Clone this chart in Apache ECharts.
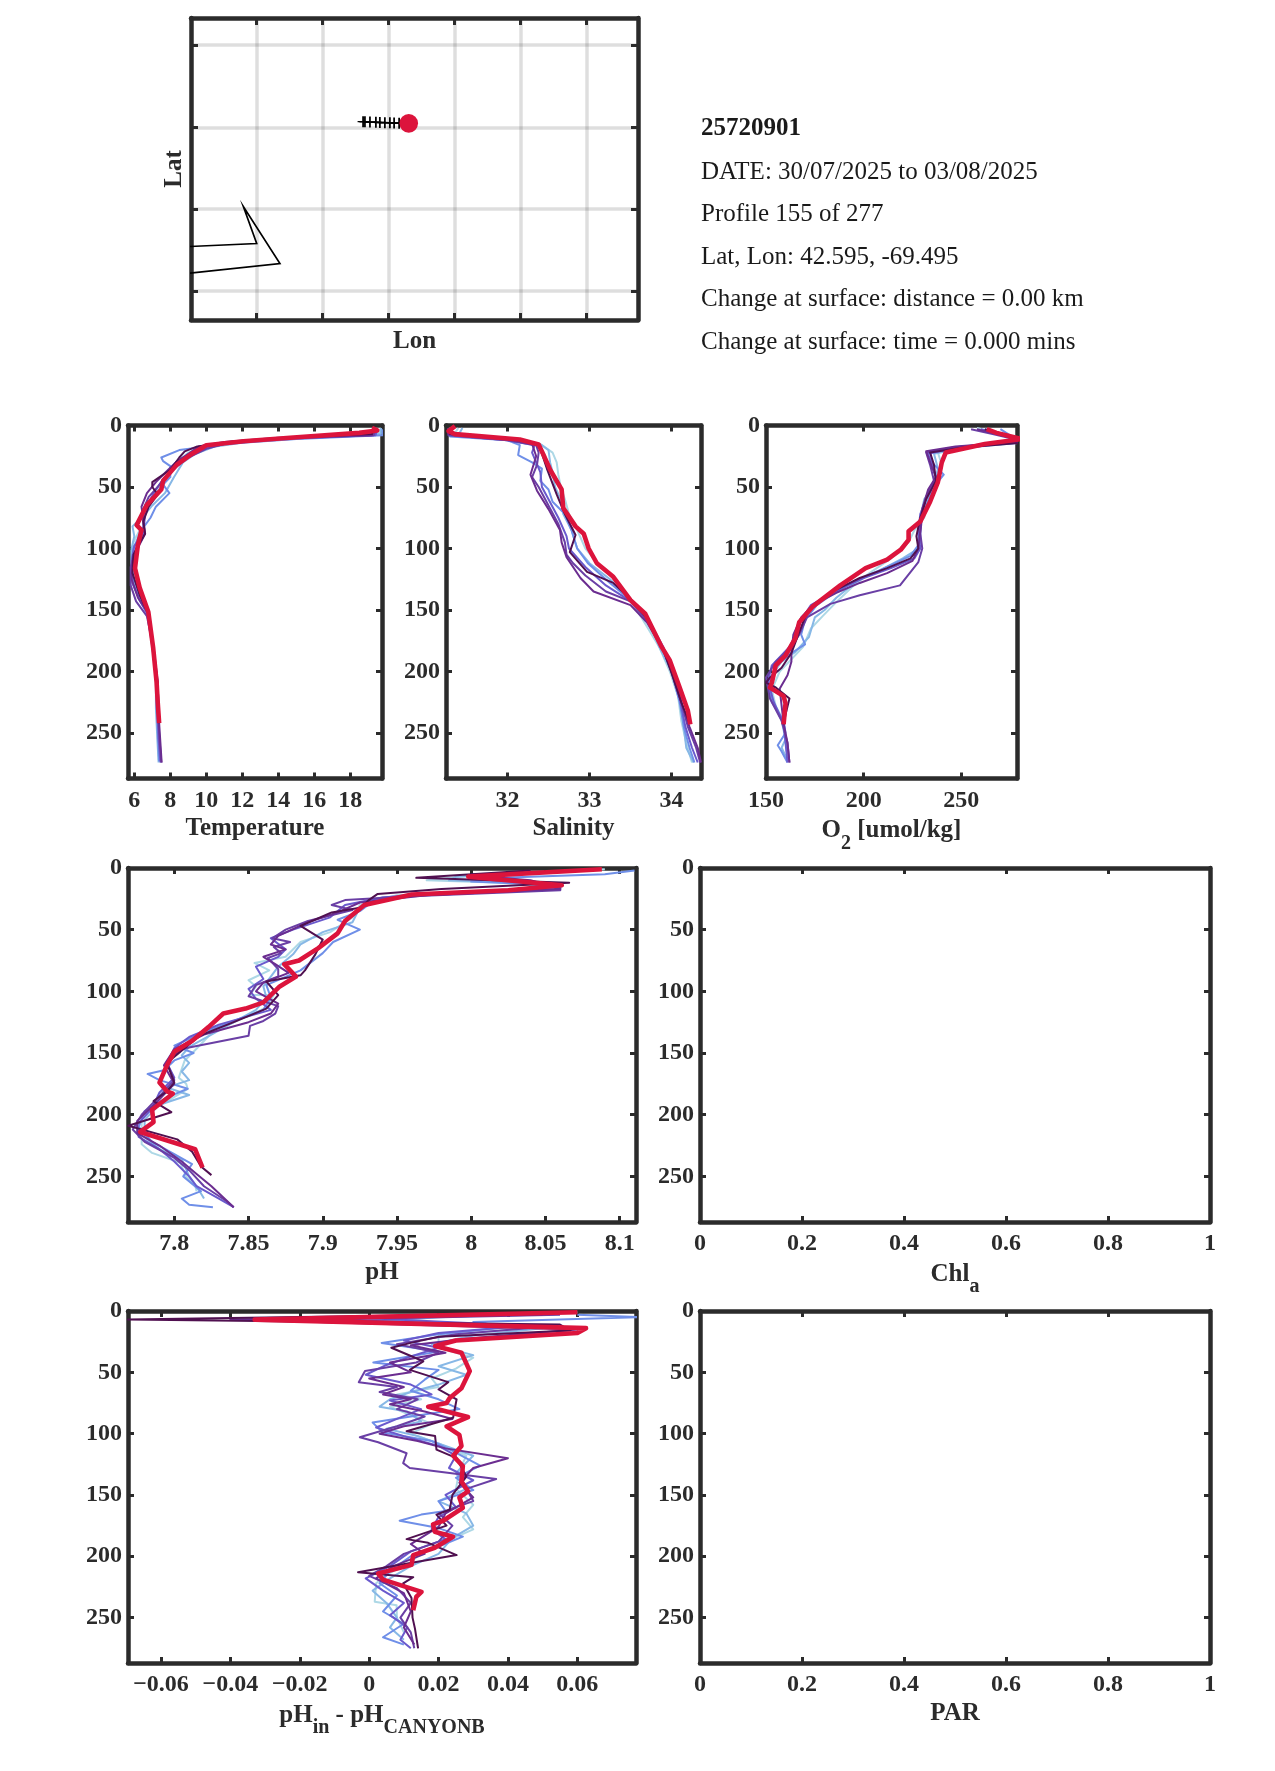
<!DOCTYPE html>
<html><head><meta charset="utf-8">
<script src="https://cdn.jsdelivr.net/npm/echarts@6/dist/echarts.min.js"></script>
<style>html,body{margin:0;padding:0;background:#fff}#c{width:1275px;height:1771px}</style>
</head><body><div id="c"></div>
<script>
const profileColors=['#add8e6','#87b8e6','#6f8fe8','#6a5acd','#6a3fa5','#6b2d90','#501050'];
const redColor='#dc143c';
const infoLines=['25720901','DATE: 30/07/2025 to 03/08/2025','Profile 155 of 277','Lat, Lon: 42.595, -69.495','Change at surface: distance = 0.00 km','Change at surface: time = 0.000 mins'];
const depthTicks=[0,50,100,150,200,250];
const tempTicks=[6,8,10,12,14,16,18];
const salTicks=[32,33,34];
const o2Ticks=[150,200,250];
const phTicks=[7.8,7.85,7.9,7.95,8,8.05,8.1];
const diffTicks=[-0.06,-0.04,-0.02,0,0.02,0.04,0.06];
const lonTicks=[-70.647,-70.15,-69.65,-69.147,-68.647,-68.147];
const latTicks=[43.072,42.569,42.073,41.571];

const trackLon=[-69.841,-69.827,-69.789,-69.744,-69.714,-69.676,-69.638,-69.606,-69.568,-69.495];
const trackLat=[42.605,42.604,42.603,42.602,42.600,42.599,42.598,42.597,42.596,42.595];
const coastLon=[-71.4,-70.647,-70.748,-70.471,-71.4];
const coastLat=[41.835,41.862,42.087,41.740,41.66];
const floatLon=[-69.495];
const floatLat=[42.595];

const temp1=[[19.7,2],[19.6,6],[15,10],[12,13],[10,16],[9,22],[8.4,30],[7.8,42],[7.2,55],[6.6,65],[6.4,72],[6.1,80],[6.3,85],[5.95,95],[5.9,105],[6.0,120],[6.3,135],[6.7,150],[7.0,175],[7.2,200],[7.25,225],[7.3,250],[7.36,272]];
const temp2=[[19.7,2],[19.7,7],[16,10],[12.5,13],[10.5,17],[9.4,23],[8.7,30],[8.2,42],[7.7,55],[7.0,65],[6.6,72],[5.9,82],[6.0,90],[5.85,100],[5.85,112],[6.0,128],[6.4,142],[6.8,155],[7.0,180],[7.2,205],[7.2,230],[7.28,255],[7.35,274]];
const temp3=[[19.8,3],[19.8,8],[15,11],[11,15],[9.5,18],[8.5,20],[7.5,26],[7.6,29],[8,33],[8,42],[7.6,48],[7.95,55],[7.2,66],[6.9,75],[6.4,85],[5.95,100],[5.85,115],[5.95,130],[6.3,142],[6.7,152],[7,180],[7.2,205],[7.25,232],[7.33,255],[7.38,273]];
const temp4=[[19.5,3],[19.4,8],[14,11],[11,15],[9.5,20],[8.6,27],[8.2,35],[7.6,44],[7.2,52],[6.9,60],[6.6,72],[6.5,88],[6,98],[5.85,110],[5.9,128],[6.3,142],[6.8,155],[7.05,180],[7.25,205],[7.3,232],[7.35,255],[7.45,274]];
const temp5=[[19.4,3],[19.3,8],[13.5,11],[11,15],[10,19],[9,26],[8.4,33],[7.7,42],[7.3,50],[6.8,58],[6.5,68],[6.5,85],[6.1,100],[5.8,115],[5.8,130],[6.1,143],[6.7,155],[7.05,180],[7.25,205],[7.3,230],[7.4,255],[7.5,274]];
const temp6=[[19.3,3],[19.2,8],[14,10],[11,13.5],[9.6,17],[8.9,24],[8.3,30],[7.6,40],[7.2,46],[6.7,55],[6.4,66],[6.6,88],[6.25,98],[5.9,110],[5.85,125],[6.2,140],[6.75,152],[7.05,178],[7.3,208],[7.35,235],[7.45,258],[7.52,274]];
const temp7=[[19.3,3],[19.2,7],[14.5,10],[11.5,13],[9.5,17],[8.8,21],[8.5,26],[8,36],[7.3,43],[7,46],[7,50],[7.3,56],[6.8,66],[6.5,78],[6.6,88],[6.2,98],[5.95,105],[5.9,120],[6.3,138],[6.75,152],[7.05,180],[7.3,210],[7.35,232],[7.4,242]];
const tempRed=[[19.2,2],[19.5,4],[18.5,6],[14.65,10],[12.06,12.8],[10,16],[9.1,24],[8.35,32],[7.6,45],[7.5,52],[6.7,64.5],[6.13,81],[6.4,85],[6.2,97],[6.04,116],[6.3,132],[6.78,151.6],[7.05,181],[7.24,209],[7.3,225],[7.38,242]];

const sal1=[[31.4,2],[31.35,7],[32.1,11],[32.42,16],[32.55,22],[32.6,30],[32.62,40],[32.65,50],[32.7,60],[32.75,72],[32.85,85],[32.95,100],[33.1,112],[33.3,125],[33.5,142],[33.65,158],[33.85,180],[33.98,200],[34.08,220],[34.12,240],[34.18,258],[34.25,274]];
const sal2=[[31.45,2],[31.4,8],[32.05,11],[32.4,15],[32.5,20],[32.52,30],[32.55,38],[32.58,50],[32.65,60],[32.68,72],[32.78,85],[32.85,100],[33,112],[33.25,125],[33.5,142],[33.7,155],[33.85,180],[34,200],[34.12,222],[34.15,245],[34.18,262],[34.27,274]];
const sal3=[[31.3,3],[31.3,9],[32,12],[32.15,16],[32.13,24],[32.3,30],[32.42,35],[32.4,45],[32.5,52],[32.55,62],[32.7,72],[32.78,85],[32.85,100],[32.98,112],[33.25,128],[33.5,142],[33.72,160],[33.88,180],[34,200],[34.1,225],[34.15,245],[34.22,262],[34.28,274]];
const sal4=[[31.3,3],[31.3,8],[32,12],[32.33,16],[32.3,22],[32.35,30],[32.4,38],[32.42,50],[32.5,60],[32.62,75],[32.72,90],[32.75,100],[32.95,115],[33.2,130],[33.48,142],[33.72,158],[33.9,180],[34,200],[34.1,222],[34.17,245],[34.25,262],[34.32,274]];
const sal5=[[31.28,2],[31.28,8],[32,12],[32.35,16],[32.38,22],[32.36,32],[32.3,42],[32.38,50],[32.5,65],[32.62,80],[32.7,95],[32.72,105],[32.8,112],[32.95,122],[33.2,135],[33.5,143],[33.7,158],[33.9,182],[34.02,202],[34.12,225],[34.2,245],[34.3,262],[34.35,274]];
const sal6=[[31.28,2],[31.28,7],[32,11],[32.3,15],[32.35,25],[32.28,40],[32.36,53],[32.5,68],[32.64,85],[32.66,95],[32.72,107],[32.89,124],[33.05,135],[33.5,146],[33.7,160],[33.9,183],[34,200],[34.12,225],[34.22,245],[34.32,262],[34.36,274]];
const sal7=[[31.3,2],[31.3,7],[32.1,11],[32.38,16],[32.43,25],[32.48,35],[32.6,56],[32.7,72],[32.83,89],[32.76,103],[32.97,119],[33.29,128],[33.5,141],[33.72,158],[33.9,182],[34.02,205],[34.12,225],[34.22,242]];
const salRed=[[31.36,0.5],[31.28,4.6],[31.36,7],[32.15,11.4],[32.38,15.5],[32.44,24],[32.52,36],[32.66,52],[32.68,67],[32.83,82],[32.93,88],[32.99,100],[33.09,112],[33.29,123],[33.5,142],[33.68,153],[33.88,180],[33.98,191],[34.1,213],[34.2,232],[34.23,243]];

const oxy1=[[258,2],[268,6],[276,10],[279,13],[255,17],[238,22],[240,32],[238,45],[233,60],[231,75],[226,85],[223,95],[214,108],[203,120],[195,130],[187,142],[179,155],[173,165],[169,180],[163,190],[157,200],[153,215],[155,228],[159,240],[160,255],[161,270]];
const oxy2=[[262,3],[272,7],[278,11],[280,14],[252,18],[236,23],[238,35],[236,48],[231,60],[229,75],[228,88],[228,100],[220,108],[208,118],[197,126],[186,140],[180,150],[175,156],[172,172],[165,184],[158,192],[152,205],[153,222],[158,240],[160,255],[158,262],[161,272]];
const oxy3=[[270,3],[275,8],[279,11],[280,13],[250,17],[234,21],[235,30],[241,40],[236,50],[232,65],[229,80],[229,95],[224,106],[212,115],[198,125],[186,135],[176,146],[170,158],[168,170],[170,178],[162,186],[155,196],[151,210],[153,225],[159,240],[160,250],[156,260],[158,265],[161,274]];
const oxy4=[[260,3],[270,7],[278,11],[279,14],[248,18],[233,23],[235,32],[237,42],[233,55],[229,72],[228,85],[229,100],[226,108],[214,116],[200,124],[185,135],[173,146],[168,158],[166,168],[162,180],[153,195],[151,208],[154,225],[159,242],[160,258],[161,274]];
const oxy5=[[255,3],[266,7],[277,11],[280,13],[245,18],[232,22],[234,32],[236,45],[232,58],[230,72],[229,88],[230,100],[228,111],[218.6,130],[198,138],[183,145],[171,156],[167,170],[163,180],[155,192],[150,205],[152,222],[158,240],[161,258],[162,274]];
const oxy6=[[258,3],[268,7],[278,11],[281,13],[247,17],[232,21],[234,30],[237,42],[233,52],[230,68],[229,85],[228,100],[225,110],[212,120],[198,128],[186,136],[174,146],[168,156],[164,170],[163,185],[163,192],[161,203],[157,214],[158,228],[159,242],[161,258],[162,274]];
const oxy7=[[262,3],[272,7],[279,11],[280,14],[250,18],[234,22],[236,32],[237,45],[232,60],[229,75],[227,90],[228,100],[224,108],[212,116],[198,124],[184,135],[174,146],[171,152],[167,168],[163,185],[158,197],[152,205],[150,209],[155,213],[162,222],[160,235],[159,243]];
const oxyRed=[[263,3],[268,6],[281,11],[262,15],[242,22],[240,30],[238,46],[234,62],[229,78],[223,86],[223,93],[219,101],[212,109],[201,116],[188,130],[174,147],[167,160],[165,173],[160,187],[155,195],[153,209],[152,213],[159,220],[160,226],[159,243]];

const ph1=[[8.09,1],[8.0,6],[7.97,10],[8.02,12],[8.06,14],[8.02,18],[7.95,22],[7.925,30],[7.92,40],[7.905,52],[7.885,60],[7.875,72],[7.854,77],[7.864,83],[7.85,91],[7.855,96],[7.851,103],[7.867,103],[7.862,113],[7.835,128],[7.825,134],[7.813,149],[7.807,156],[7.803,170],[7.808,175],[7.809,179],[7.794,190],[7.778,201],[7.778,224],[7.785,231],[7.804,239],[7.808,250],[7.814,257],[7.815,262]];
const ph2=[[8.08,2],[7.99,7],[7.985,10],[8.03,12],[8.06,15],[8.0,19],[7.94,24],[7.925,32],[7.92,44],[7.9,52],[7.885,62],[7.88,70],[7.87,80],[7.865,88],[7.86,96],[7.862,105],[7.855,115],[7.84,125],[7.825,135],[7.81,145],[7.805,152],[7.81,158],[7.805,165],[7.81,172],[7.795,178],[7.81,184],[7.79,192],[7.78,204],[7.78,218],[7.79,228],[7.805,236],[7.81,250],[7.815,258],[7.82,268]];
const ph3=[[8.11,2],[8.09,5],[8.02,8],[8.0,11],[8.04,13],[8.06,16],[7.98,20],[7.935,26],[7.925,35],[7.91,42],[7.925,50],[7.907,60],[7.90,69],[7.885,83],[7.862,95],[7.865,105],[7.86,115],[7.84,124],[7.82,133],[7.80,144],[7.813,150],[7.80,156],[7.793,164],[7.782,167],[7.79,172],[7.809,179],[7.795,186],[7.78,197],[7.776,210],[7.785,222],[7.80,232],[7.812,240],[7.806,250],[7.818,262],[7.805,268],[7.81,273],[7.826,275]];
const ph4=[[8.06,3],[8.0,7],[8.03,11],[8.06,16],[7.98,20],[7.94,24],[7.915,30],[7.905,40],[7.88,50],[7.865,57],[7.875,66],[7.87,72],[7.855,80],[7.86,90],[7.85,98],[7.855,106],[7.865,115],[7.83,127],[7.81,137],[7.80,146],[7.795,158],[7.80,170],[7.79,182],[7.785,195],[7.775,208],[7.776,218],[7.79,228],[7.80,238],[7.81,250],[7.815,258],[7.83,268],[7.84,275]];
const ph5=[[8.0,5],[8.06,15],[8.06,18],[7.96,23],[7.915,26],[7.906,30],[7.92,34],[7.89,43],[7.875,50],[7.866,57],[7.878,60],[7.867,64],[7.872,69],[7.863,73],[7.87,82],[7.87,88],[7.855,95],[7.85,104],[7.87,112],[7.868,118],[7.86,124],[7.851,128],[7.85,136],[7.804,147],[7.795,158],[7.80,172],[7.79,185],[7.778,200],[7.772,212],[7.78,222],[7.80,235],[7.81,245],[7.82,258],[7.835,270],[7.84,275]];
const ph6=[[8.0,6],[8.04,10],[8.06,17],[7.97,22],[7.925,28],[7.91,36],[7.89,44],[7.87,55],[7.865,62],[7.875,66],[7.86,72],[7.868,78],[7.877,85],[7.86,93],[7.855,100],[7.87,110],[7.865,118],[7.85,125],[7.82,135],[7.80,147],[7.793,160],[7.80,175],[7.788,190],[7.775,205],[7.775,215],[7.79,225],[7.805,238],[7.815,248],[7.825,258],[7.84,275]];
const ph7=[[8.04,2],[7.963,8],[8.066,12],[7.98,17],[7.937,21],[7.931,26],[7.926,32],[7.906,36],[7.885,47],[7.90,58],[7.895,70],[7.888,83],[7.885,87],[7.862,92],[7.87,103],[7.862,114],[7.84,125],[7.817,136],[7.795,158],[7.80,174],[7.795,181],[7.786,189],[7.798,198],[7.769,209],[7.802,220],[7.812,230],[7.818,242],[7.825,249]];
const phRed=[[8.088,1],[7.998,7],[8.061,14],[8.025,18],[7.96,21.5],[7.928,30],[7.915,43],[7.91,53],[7.897,65],[7.884,75],[7.874,78],[7.882,88],[7.871,96],[7.86,109],[7.848,114],[7.833,118],[7.823,129],[7.812,140],[7.80,149],[7.795,160],[7.79,174],[7.795,181],[7.799,183],[7.785,196],[7.786,206],[7.777,214],[7.814,228],[7.819,243]];

const diff1=[[0.05,2],[-0.03,8],[0.05,13],[0.02,20],[0.02,30],[0.03,38],[0.025,47],[0.018,55],[0.02,62],[0.008,68],[0.015,72],[0.006,78],[0.012,85],[0.018,92],[0.012,100],[0.02,108],[0.028,118],[0.026,130],[0.025,145],[0.03,158],[0.027,168],[0.03,178],[0.022,188],[0.015,197],[0.012,205],[0.005,215],[0.002,222],[0.0016,237],[0.0079,240],[0.008,250],[0.01,262]];
const diff2=[[0.06,1],[0.02,5],[0.0,9],[0.05,14],[0.03,20],[0.018,27],[0.03,36],[0.02,45],[0.028,52],[0.02,60],[0.012,66],[0.006,72],[0.003,78],[0.011,82],[0.015,90],[0.005,96],[0.014,102],[0.022,110],[0.03,118],[0.025,132],[0.028,145],[0.02,155],[0.028,165],[0.03,175],[0.024,185],[0.02,198],[0.012,208],[0.006,218],[0.001,228],[0.005,238],[0.008,250],[0.006,258],[0.01,268]];
const diff3=[[0.06,3],[0.078,5],[0.03,9],[0.04,13],[0.02,19],[0.0036,26],[0.02,33],[0.0012,42],[0.02,48],[0.016,56],[0.012,65],[0.02,72],[0.026,80],[0.012,86],[0.001,91],[0.004,99],[0.018,106],[0.024,114],[0.032,126],[0.025,136],[0.03,146],[0.02,155],[0.022,163],[0.015,166],[0.0088,171],[0.02,177],[0.027,184],[0.02,192],[0.012,200],[0.006,212],[0.003,222],[0.008,232],[0.004,245],[0.01,255],[0.004,266],[0.01,272]];
const diff4=[[0.05,2],[0.0,6],[0.045,12],[0.02,18],[0.01,24],[0.02,30],[0.012,37],[0.005,44],[-0.001,52],[0.012,60],[0.018,68],[0.006,73],[0.015,80],[0.008,88],[0.002,95],[0.01,102],[0.02,110],[0.025,118],[0.023,128],[0.03,138],[0.022,150],[0.025,160],[0.02,168],[0.018,178],[0.022,186],[0.012,196],[0.006,208],[-0.001,218],[0.004,228],[0.01,238],[0.006,248],[0.011,258],[0.009,268],[0.012,275]];
const diff5=[[0.055,3],[-0.01,7],[0.05,13],[0.025,19],[0.008,27],[0.02,34],[0.0136,42],[-0.0012,49],[-0.003,58],[0.008,62],[0.003,66],[0.014,72],[0.008,80],[0.016,86],[0.008,94],[-0.0027,103],[0.0026,107],[0.0108,116],[0.0098,124],[0.0117,128],[0.0232,132],[0.0366,137],[0.028,145],[0.03,155],[0.02,165],[0.024,175],[0.02,188],[0.01,198],[0.005,208],[0.0,216],[0.008,226],[0.012,238],[0.009,250],[0.012,262],[0.013,275]];
const diff6=[[0.05,3],[-0.04,7],[0.06,15],[0.03,22],[0.012,28],[0.022,34],[0.006,42],[0.012,50],[0.0,55],[0.01,62],[0.004,68],[0.012,72],[0.006,76],[0.016,82],[0.024,88],[0.01,94],[0.003,100],[0.014,106],[0.022,112],[0.04,120],[0.03,128],[0.026,140],[0.03,152],[0.022,165],[0.02,176],[0.012,190],[0.016,198],[0.007,208],[0.002,218],[0.01,230],[0.012,245],[0.01,258],[0.013,272]];
const diff7=[[0.05,2],[-0.0695,7],[0.055,11],[0.058,16],[0.02,21],[0.012,26],[0.0064,30],[0.0156,41],[0.0117,48],[0.0228,58],[0.02,64],[0.0252,72],[0.0242,87],[0.0108,98],[0.019,102],[0.0194,113],[0.0252,120],[0.028,135],[0.024,150],[0.0232,162],[0.0194,166],[0.0223,175],[0.0108,186],[0.017,189],[0.0252,199],[0.0127,205],[-0.0032,213],[0.0127,217],[0.0098,222],[0.0122,234],[0.0125,250],[0.0132,259],[0.0141,275]];
const diffRed=[[0.06,1],[-0.033,7],[0.0625,14],[0.06,18],[0.025,24],[0.019,28.6],[0.0266,34],[0.029,49],[0.0266,63],[0.0232,71],[0.0223,75],[0.017,78],[0.0285,86.5],[0.0223,94],[0.026,101],[0.0266,110],[0.0242,118],[0.027,126.5],[0.0266,139],[0.0285,147],[0.026,152],[0.027,160.5],[0.0213,171],[0.0184,174],[0.0189,180],[0.0242,184],[0.0189,193],[0.0127,199],[0.0122,207],[0.0026,214],[0.004,219],[0.0151,229],[0.0136,233],[0.0127,244]];

const serif='"Liberation Serif","Times New Roman",serif';
const ink='#2b2b2b';
const tickFont=24, nameFont=25;
function zipPairs(a,b){return a.map((v,i)=>[v,b[i]]);}
const fmt=v=>String(v).replace('-','\u2212');

const grids=[],xAxes=[],yAxes=[],series=[];
function addPanel(p){
  const g=grids.length;
  grids.push({left:p.left,top:p.top,width:p.width,height:p.height,containLabel:false});
  const axisLine={show:true,onZero:false,lineStyle:{color:ink,width:4.5}};
  const tick=(ticks)=>({show:true,inside:true,length:p.tickLen||6,lineStyle:{color:ink,width:3},customValues:ticks});
  const xLabel={show:p.xLabels!==false,color:ink,fontFamily:serif,fontWeight:'bold',fontSize:tickFont,margin:10,customValues:p.xTicks,hideOverlap:false,formatter:fmt};
  const yLabel={show:p.yLabels!==false,color:ink,fontFamily:serif,fontWeight:'bold',fontSize:tickFont,margin:6,padding:[6,0,0,0],customValues:p.yTicks,hideOverlap:false,formatter:fmt};
  const split=p.grid?{show:true,lineStyle:{color:'rgba(0,0,0,0.13)',width:3.5}}:{show:false};
  xAxes.push({type:'value',gridIndex:g,position:'bottom',min:p.xMin,max:p.xMax,axisLine,axisTick:tick(p.xTicks),axisLabel:xLabel,splitLine:split,
    name:p.xName,nameLocation:'middle',nameGap:p.xGap||38,nameTextStyle:Object.assign({color:ink,fontFamily:serif,fontWeight:'bold',fontSize:nameFont},p.xNameStyle||{})});
  xAxes.push({type:'value',gridIndex:g,position:'top',min:p.xMin,max:p.xMax,axisLine,axisTick:tick(p.xTicks),axisLabel:{show:false},splitLine:{show:false}});
  yAxes.push({type:'value',gridIndex:g,position:'left',inverse:!!p.yInv,min:p.yMin,max:p.yMax,axisLine,axisTick:tick(p.yTicks),axisLabel:yLabel,splitLine:split,
    name:p.yName,nameLocation:'middle',nameGap:p.yGap||20,nameRotate:90,nameTextStyle:{color:ink,fontFamily:serif,fontWeight:'bold',fontSize:nameFont}});
  yAxes.push({type:'value',gridIndex:g,position:'right',inverse:!!p.yInv,min:p.yMin,max:p.yMax,axisLine,axisTick:tick(p.yTicks),axisLabel:{show:false},splitLine:{show:false}});
  return {xAxisIndex:g*2,yAxisIndex:g*2};
}
function addProfiles(ax,thin,red){
  thin.forEach((d,i)=>series.push(Object.assign({type:'line',data:d,symbol:'none',clip:true,silent:true,lineStyle:{color:profileColors[i],width:2,join:'round'}},ax)));
  series.push(Object.assign({type:'line',data:red,symbol:'none',clip:true,silent:true,lineStyle:{color:redColor,width:4.6,join:'round'},z:5},ax));
}
const depthMax=287;
const subStyle={sub:{fontFamily:serif,fontWeight:'bold',fontSize:20,color:ink,padding:[25,0,0,0]},base:{fontFamily:serif,fontWeight:'bold',fontSize:nameFont,color:ink}};

// map
const mapAx=addPanel({left:191,top:18,width:447,height:302,xMin:-71.1447,xMax:-67.7583,yMin:41.3955,yMax:43.2376,xTicks:lonTicks,yTicks:latTicks,xLabels:false,yLabels:false,grid:true,tickLen:7,xName:'Lon',yName:'Lat',xGap:9,yGap:4,xNameStyle:{verticalAlign:'top'}});
series.push(Object.assign({type:'line',data:zipPairs(coastLon,coastLat),symbol:'none',clip:true,silent:true,lineStyle:{color:'#000',width:1.7,join:'miter'}},mapAx));
series.push(Object.assign({type:'line',data:zipPairs(trackLon,trackLat),symbol:'path://M4.2 0H5.8V4.4H10V5.6H5.8V10H4.2V5.6H0V4.4H4.2Z',symbolSize:11,showAllSymbol:true,silent:true,itemStyle:{color:'#000',opacity:1},lineStyle:{color:'#000',width:1.8}},mapAx));
series.push(Object.assign({type:'scatter',data:zipPairs(floatLon,floatLat),symbol:'circle',symbolSize:18.6,silent:true,z:6,itemStyle:{color:redColor,opacity:1}},mapAx));

// row 1
addProfiles(addPanel({left:128,top:425.5,width:254,height:353,xMin:5.65,xMax:19.76,yMin:0,yMax:depthMax,yInv:true,xTicks:tempTicks,yTicks:depthTicks,xName:'Temperature',xGap:38}),[temp1,temp2,temp3,temp4,temp5,temp6,temp7],tempRed);
addProfiles(addPanel({left:446,top:425.5,width:255,height:353,xMin:31.25,xMax:34.36,yMin:0,yMax:depthMax,yInv:true,xTicks:salTicks,yTicks:depthTicks,xName:'Salinity',xGap:38}),[sal1,sal2,sal3,sal4,sal5,sal6,sal7],salRed);
addProfiles(addPanel({left:766,top:425.5,width:251,height:353,xMin:150,xMax:278.5,yMin:0,yMax:depthMax,yInv:true,xTicks:o2Ticks,yTicks:depthTicks,xName:'{base|O}{sub|2}{base| [umol/kg]}',xGap:30,xNameStyle:{rich:subStyle}}),[oxy1,oxy2,oxy3,oxy4,oxy5,oxy6,oxy7],oxyRed);
// row 2
addProfiles(addPanel({left:128,top:868,width:508,height:354,xMin:7.7688,xMax:8.111,yMin:0,yMax:depthMax,yInv:true,xTicks:phTicks,yTicks:depthTicks,xName:'pH',xGap:38}),[ph1,ph2,ph3,ph4,ph5,ph6,ph7],phRed);
addPanel({left:700,top:868,width:510,height:354,xMin:0,xMax:1,yMin:0,yMax:depthMax,yInv:true,xTicks:[0,0.2,0.4,0.6,0.8,1],yTicks:depthTicks,xName:'{base|Chl}{sub|a}',xGap:30,xNameStyle:{rich:subStyle}});
// row 3
addProfiles(addPanel({left:128,top:1311,width:508,height:352,xMin:-0.0695,xMax:0.0769,yMin:0,yMax:depthMax,yInv:true,xTicks:diffTicks,yTicks:depthTicks,xName:'{base|pH}{sub|in}{base| - pH}{sub|CANYONB}',xGap:30,xNameStyle:{rich:subStyle}}),[diff1,diff2,diff3,diff4,diff5,diff6,diff7],diffRed);
addPanel({left:700,top:1311,width:510,height:352,xMin:0,xMax:1,yMin:0,yMax:depthMax,yInv:true,xTicks:[0,0.2,0.4,0.6,0.8,1],yTicks:depthTicks,xName:'PAR',xGap:38});

const infoY=[131,174,216.5,259,301.5,344];
const graphic=infoLines.map((t,i)=>({type:'text',left:701,top:infoY[i]-14.5,silent:true,style:{text:t,fill:'#1a1a1a',font:(i===0?'bold ':'')+'25px '+serif}}));

const chart=echarts.init(document.getElementById('c'),null,{renderer:'canvas',width:1275,height:1771});
chart.setOption({animation:false,backgroundColor:'#fff',grid:grids,xAxis:xAxes,yAxis:yAxes,series,graphic});
</script></body></html>
